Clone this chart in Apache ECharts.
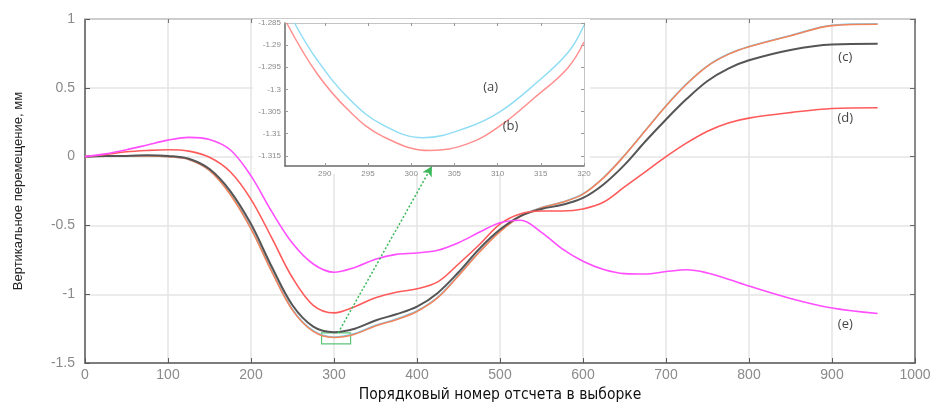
<!DOCTYPE html>
<html><head><meta charset="utf-8">
<script src="https://cdn.jsdelivr.net/npm/echarts@6/dist/echarts.min.js"></script>
<style>html,body{margin:0;padding:0;background:#fff}#c{width:936px;height:408px}</style>
</head><body><div id="c"></div>
<script>
// ---- main chart data ----
const xs =      [0, 25, 50, 75, 100, 125, 150, 175, 200, 225, 250, 275, 300, 325, 350, 375, 400, 425, 450, 475, 500, 525, 550, 575, 600, 625, 650, 675, 700, 725, 750, 775, 800, 850, 900, 955];
const seriesA = [0, 0.005, 0.005, 0.005, 0.0, -0.02, -0.10, -0.27, -0.52, -0.83, -1.11, -1.265, -1.31, -1.285, -1.225, -1.18, -1.12, -1.02, -0.86, -0.69, -0.54, -0.43, -0.37, -0.33, -0.27, -0.15, 0.01, 0.19, 0.37, 0.53, 0.66, 0.745, 0.80, 0.88, 0.955, 0.965];
const seriesB = [0, 0.005, 0.005, 0.005, 0.0, -0.02, -0.10, -0.275, -0.525, -0.835, -1.115, -1.27, -1.314, -1.29, -1.23, -1.185, -1.125, -1.025, -0.865, -0.695, -0.545, -0.433, -0.372, -0.332, -0.272, -0.152, 0.008, 0.188, 0.368, 0.528, 0.658, 0.743, 0.798, 0.878, 0.952, 0.962];
const seriesC = [0, 0.005, 0.005, 0.01, 0.005, -0.015, -0.09, -0.25, -0.49, -0.80, -1.08, -1.235, -1.275, -1.25, -1.19, -1.145, -1.09, -0.99, -0.84, -0.67, -0.53, -0.43, -0.38, -0.35, -0.30, -0.20, -0.06, 0.11, 0.27, 0.42, 0.55, 0.64, 0.70, 0.775, 0.815, 0.82];
const seriesD = [0, 0.015, 0.035, 0.045, 0.05, 0.04, -0.005, -0.11, -0.31, -0.59, -0.88, -1.08, -1.135, -1.09, -1.025, -0.985, -0.96, -0.91, -0.78, -0.64, -0.49, -0.415, -0.395, -0.395, -0.38, -0.33, -0.22, -0.11, 0.0, 0.10, 0.185, 0.245, 0.28, 0.32, 0.35, 0.355];
const seriesE = [0, 0.02, 0.05, 0.085, 0.12, 0.14, 0.125, 0.05, -0.14, -0.40, -0.63, -0.78, -0.84, -0.805, -0.745, -0.71, -0.70, -0.68, -0.625, -0.55, -0.48, -0.462, -0.55, -0.67, -0.76, -0.82, -0.85, -0.853, -0.835, -0.822, -0.845, -0.89, -0.94, -1.03, -1.10, -1.14];
const xTicks = [0, 100, 200, 300, 400, 500, 600, 700, 800, 900, 1000];
const yTicks = [-1.5, -1, -0.5, 0, 0.5, 1];

// ---- inset data ----
const insetAx = [286.5, 289.1, 292.9, 296.7, 301.4, 306.5, 310.3, 314.2, 318.1, 320];
const insetA = [-1.285, -1.2933, -1.3023, -1.308, -1.3109, -1.3086, -1.305, -1.299, -1.2918, -1.2855];
const insetBx = [285.6, 289.1, 292.9, 296.7, 302.2, 306.5, 310.3, 314.2, 318.1, 320];
const insetB = [-1.285, -1.2964, -1.305, -1.3106, -1.3138, -1.3123, -1.3082, -1.302, -1.2952, -1.2893];
const insetXTicks = [290, 295, 300, 305, 310, 315, 320];
const insetYTicks = [-1.315, -1.31, -1.305, -1.3, -1.295, -1.29, -1.285];

// ---- annotations ----
const mainLabels = [['(c)', 916, 0.725], ['(d)', 916, 0.275], ['(e)', 916, -1.22]];
const insetLabels = [['(a)', 309.2, -1.2996], ['(b)', 311.5, -1.3084]];
const zoomBox = [[285, -1.28], [320, -1.36]];
const arrowLine = [[305, -1.28], [418, -0.07]];

const pair = (x, y) => x.map((v, i) => [v, y[i]]);
const tickFont = {color: '#8a8a8a', fontSize: 14, fontFamily: 'Liberation Sans'};
const smallFont = {color: '#8a8a8a', fontSize: 8, fontFamily: 'Liberation Sans'};

function mainLine(name, data, color, w, z) {
  return {name, type: 'line', xAxisIndex: 0, yAxisIndex: 0, data: pair(xs, data), smooth: 0.35,
    symbol: 'none', lineStyle: {color, width: w}, z: z, animation: false};
}
function insetLine(name, x, y, color) {
  return {name, type: 'line', xAxisIndex: 2, yAxisIndex: 2, data: pair(x, y), smooth: 0.4,
    symbol: 'none', lineStyle: {color, width: 1.5}, z: 12, animation: false};
}

const chart = echarts.init(document.getElementById('c'), null, {renderer: 'canvas'});
chart.setOption({
  animation: false,
  backgroundColor: '#fff',
  grid: [
    {left: 85, right: 21, top: 19, bottom: 35},
    {left: 285, right: 352, top: 23, bottom: 242}
  ],
  graphic: [{type: 'rect', z: 5, shape: {x: 253, y: 19, width: 337, height: 155}, style: {fill: '#fff'}}],
  xAxis: [
    {type: 'value', gridIndex: 0, min: 0, max: 1000, interval: 100,
      axisLine: {onZero: false, lineStyle: {color: '#5a5a5a', width: 1.5}},
      axisTick: {inside: true, length: 5, lineStyle: {color: '#5a5a5a'}},
      axisLabel: Object.assign({margin: 5, formatter: v => xTicks.includes(v) ? String(v) : ''}, tickFont),
      splitLine: {show: true, lineStyle: {color: '#e4e4e4', width: 1.5}},
      name: 'Порядковый номер отсчета в выборке', nameLocation: 'middle', nameGap: 19,
      nameTextStyle: {color: '#111', fontSize: 15.5, fontFamily: "'DejaVu Sans Condensed', 'Liberation Sans Narrow', 'Liberation Sans', sans-serif"}},
    {type: 'value', gridIndex: 0, position: 'top', min: 0, max: 1000, interval: 100,
      axisLine: {onZero: false, lineStyle: {color: '#c4c4c4', width: 1.5}},
      axisTick: {inside: true, length: 4, lineStyle: {color: '#777'}},
      axisLabel: {show: false}, splitLine: {show: false}},
    {type: 'value', gridIndex: 1, min: 285.4, max: 320, z: 10,
      axisLine: {onZero: false, lineStyle: {color: '#6a6a6a', width: 1.5}},
      axisTick: {inside: true, length: 3, customValues: insetXTicks, lineStyle: {color: '#999'}},
      axisLabel: Object.assign({margin: 4, customValues: insetXTicks}, smallFont),
      splitLine: {show: false}},
    {type: 'value', gridIndex: 1, position: 'top', min: 285.4, max: 320, z: 10,
      axisLine: {onZero: false, lineStyle: {color: '#c4c4c4', width: 1}},
      axisTick: {inside: true, length: 3, customValues: insetXTicks, lineStyle: {color: '#999'}},
      axisLabel: {show: false}, splitLine: {show: false}}
  ],
  yAxis: [
    {type: 'value', gridIndex: 0, min: -1.5, max: 1, interval: 0.5,
      axisLine: {onZero: false, lineStyle: {color: '#5a5a5a', width: 1.5}},
      axisTick: {inside: true, length: 5, lineStyle: {color: '#5a5a5a'}},
      axisLabel: Object.assign({margin: 10, formatter: v => yTicks.includes(v) ? String(v) : ''}, tickFont),
      splitLine: {show: true, lineStyle: {color: '#e4e4e4', width: 1.5}},
      name: 'Вертикальное перемещение, мм', nameLocation: 'middle', nameGap: 60, nameRotate: 90,
      nameTextStyle: {color: '#222', fontSize: 13, fontFamily: 'Liberation Sans'}},
    {type: 'value', gridIndex: 0, position: 'right', min: -1.5, max: 1, interval: 0.5,
      axisLine: {onZero: false, lineStyle: {color: '#6a6a6a', width: 1.5}},
      axisTick: {inside: true, length: 5, lineStyle: {color: '#6a6a6a'}},
      axisLabel: {show: false}, splitLine: {show: false}},
    {type: 'value', gridIndex: 1, min: -1.3173, max: -1.285, z: 10,
      axisLine: {onZero: false, lineStyle: {color: '#6a6a6a', width: 1.5}},
      axisTick: {inside: true, length: 3, customValues: insetYTicks, lineStyle: {color: '#999'}},
      axisLabel: Object.assign({margin: 4, customValues: insetYTicks, formatter: v => String(+v.toFixed(3))}, smallFont),
      splitLine: {show: false}},
    {type: 'value', gridIndex: 1, position: 'right', min: -1.3173, max: -1.285, z: 10,
      axisLine: {onZero: false, lineStyle: {color: '#c4c4c4', width: 1}},
      axisTick: {inside: true, length: 3, customValues: insetYTicks, lineStyle: {color: '#999'}},
      axisLabel: {show: false}, splitLine: {show: false}}
  ],
  series: [
    mainLine('a', seriesA, '#7fcff0', 1.6, 2),
    mainLine('b', seriesB, '#f2845c', 1.6, 2),
    mainLine('c', seriesC, '#555555', 2, 3),
    mainLine('d', seriesD, '#ff5a5a', 1.6, 3),
    mainLine('e', seriesE, '#ff4dff', 1.6, 3),
    insetLine('a-inset', insetAx, insetA, '#8fdcf5'),
    insetLine('b-inset', insetBx, insetB, '#ff8f8f'),
    {type: 'line', xAxisIndex: 0, yAxisIndex: 0, data: [], z: 20, silent: true,
      markArea: {silent: true, itemStyle: {color: 'rgba(0,0,0,0)', borderColor: '#5cc47a', borderWidth: 1.2},
        data: [[{coord: zoomBox[0]}, {coord: zoomBox[1]}]]},
      markLine: {silent: true, symbol: ['none', 'arrow'], symbolSize: [8, 10], label: {show: false},
        lineStyle: {color: '#3cb85a', type: [2, 2], width: 1.5},
        data: [[{coord: arrowLine[0]}, {coord: arrowLine[1]}]]}},
    {type: 'scatter', xAxisIndex: 0, yAxisIndex: 0, z: 20, symbolSize: 0, silent: true,
      data: mainLabels.map(l => ({value: [l[1], l[2]], name: l[0]})),
      label: {show: true, position: 'inside', formatter: p => p.name, color: '#111', fontSize: 13, fontFamily: 'Open Sans'}},
    {type: 'scatter', xAxisIndex: 2, yAxisIndex: 2, z: 20, symbolSize: 0, silent: true,
      data: insetLabels.map(l => ({value: [l[1], l[2]], name: l[0]})),
      label: {show: true, position: 'inside', formatter: p => p.name, color: '#111', fontSize: 13, fontFamily: 'Open Sans'}}
  ]
});
</script></body></html>
